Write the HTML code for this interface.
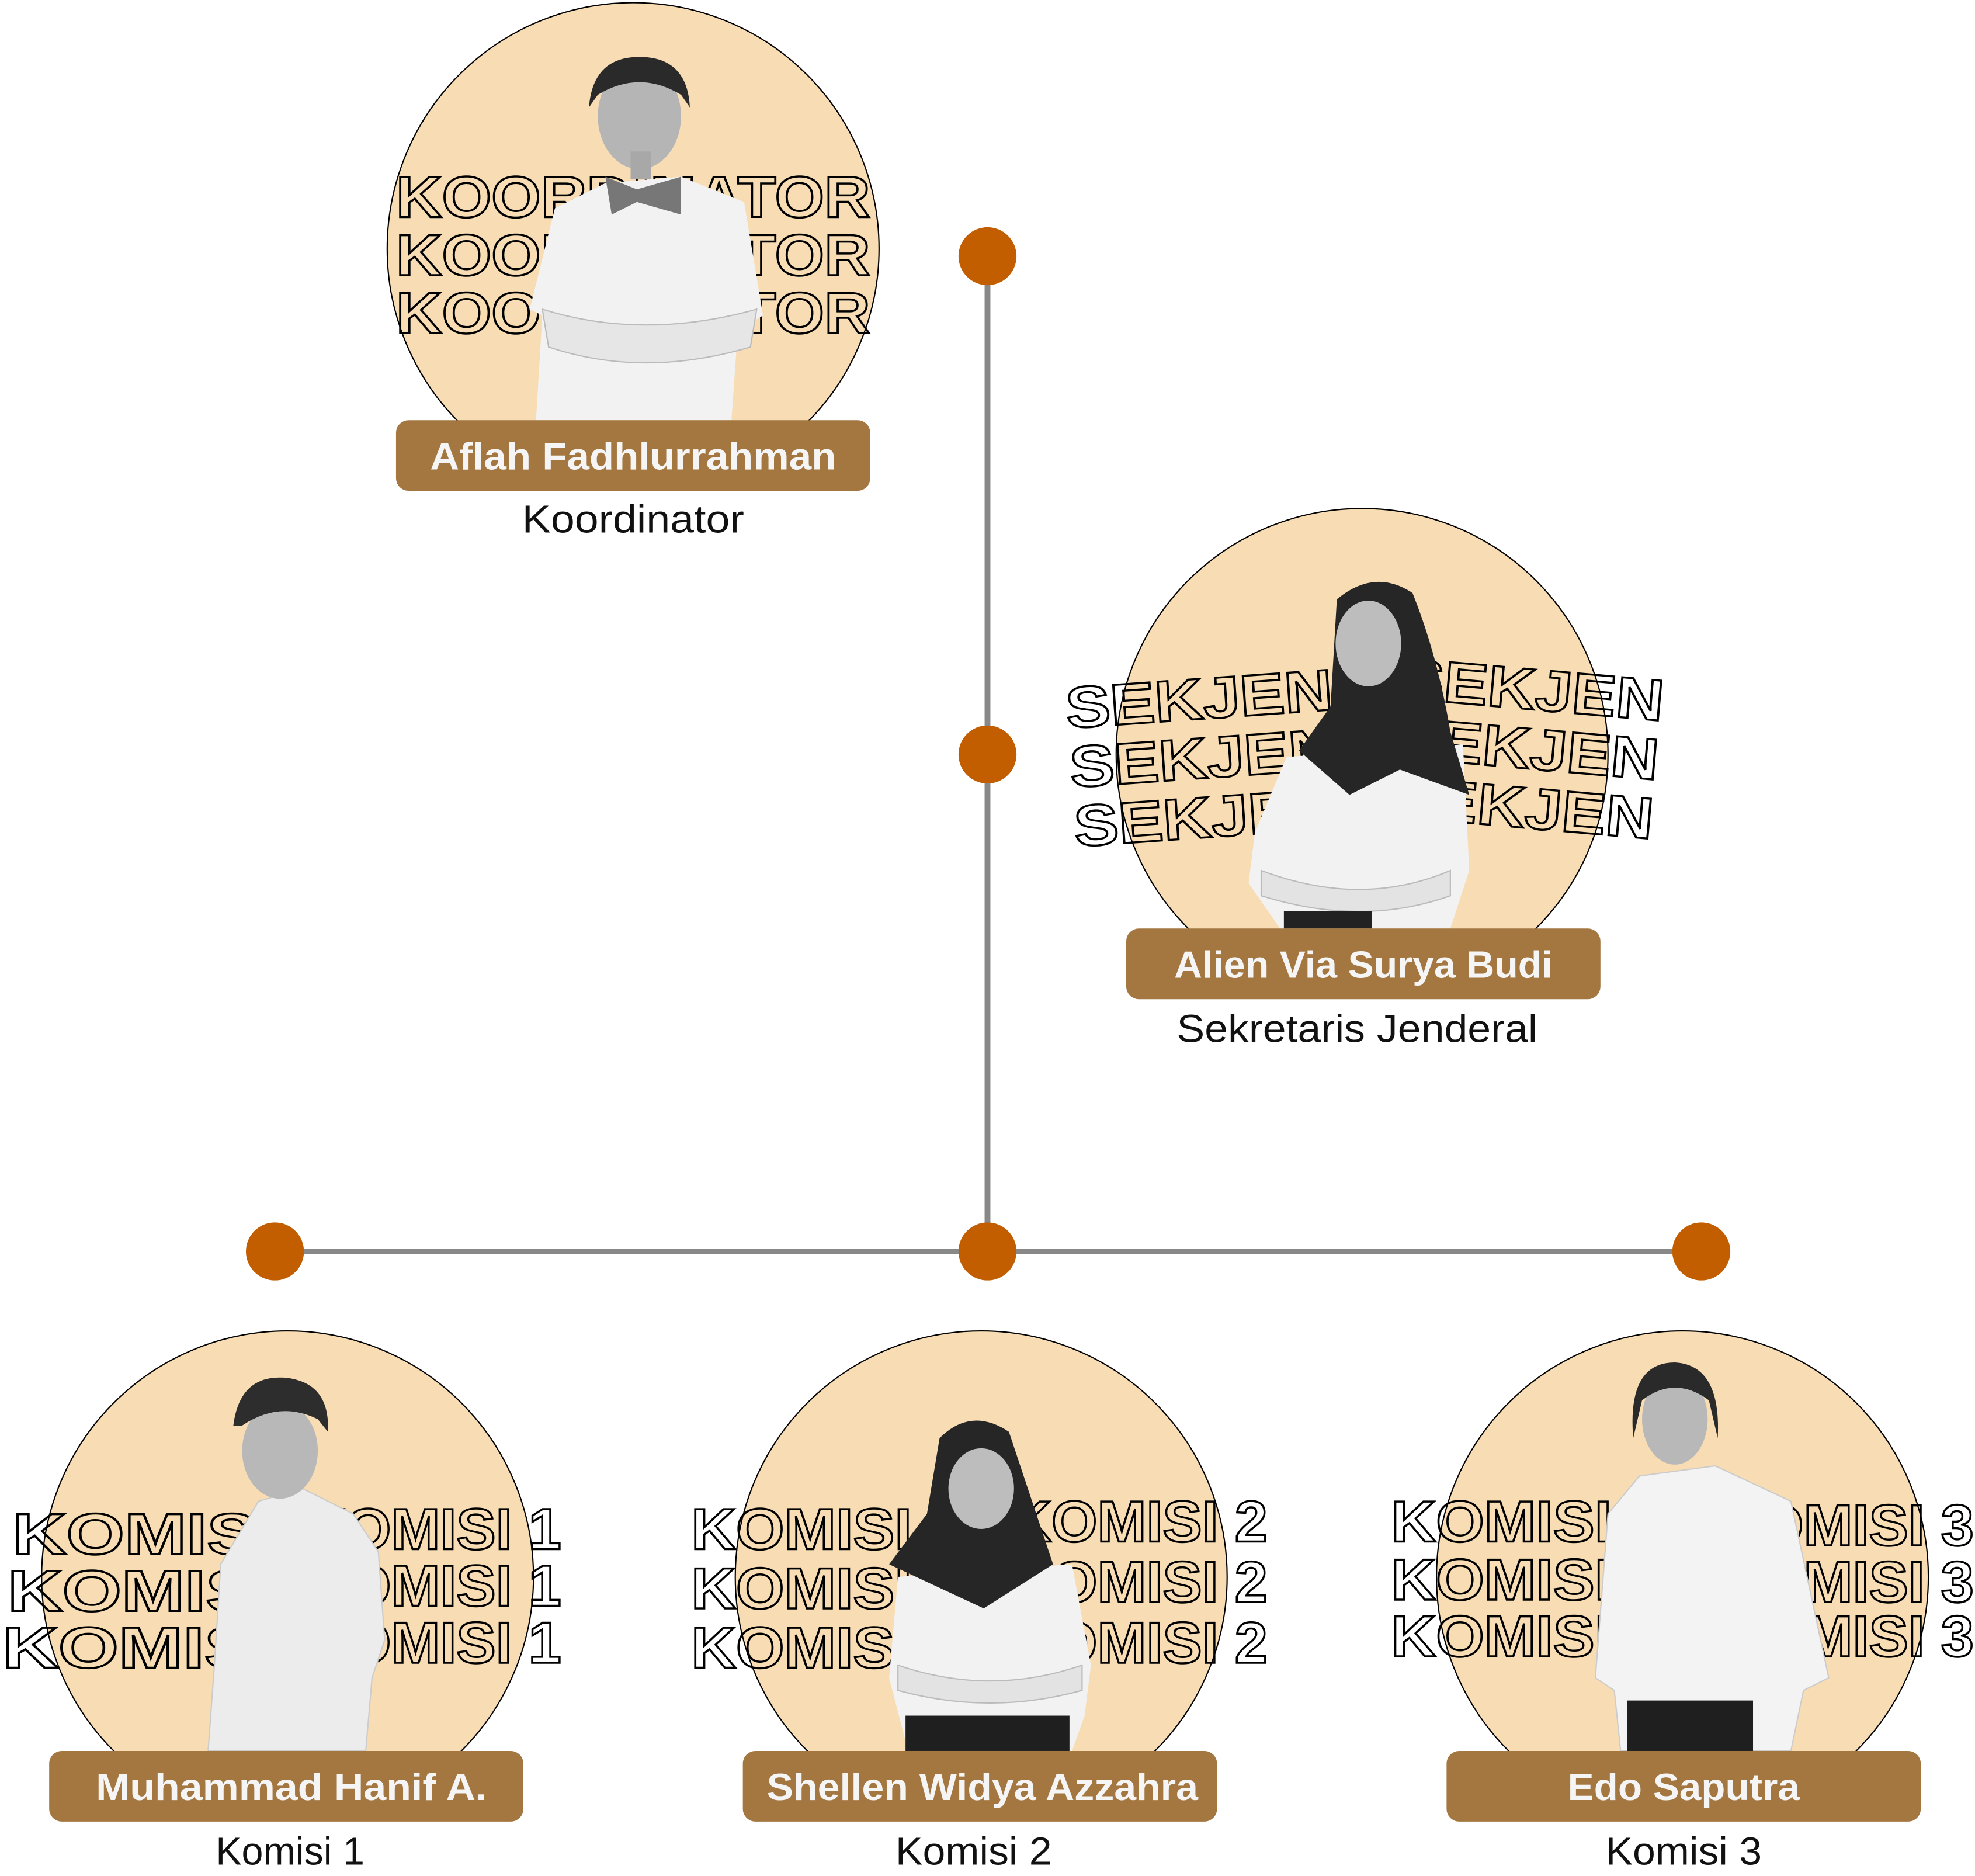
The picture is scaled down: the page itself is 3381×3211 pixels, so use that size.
<!DOCTYPE html>
<html><head><meta charset="utf-8"><style>
html,body{margin:0;padding:0;background:#fff;}
svg{display:block;}
.o{fill:none;stroke:#000;stroke-width:1.6;font-family:"Liberation Sans",sans-serif;font-weight:bold;font-size:46px;}
.n{fill:#f5f5f5;font-family:"Liberation Sans",sans-serif;font-weight:bold;font-size:30px;text-anchor:middle;}
.r{fill:#111;font-family:"Liberation Sans",sans-serif;font-size:31px;text-anchor:middle;}
.c{fill:#F7DCB4;stroke:#000;stroke-width:1;}
.lb{fill:#A47640;}
</style></head><body>
<svg width="3381" height="3211" viewBox="0 0 1566 1487" xmlns="http://www.w3.org/2000/svg">
<defs>
<clipPath id="k1"><rect x="0" y="0" width="1566" height="334"/></clipPath>
<clipPath id="k2"><rect x="0" y="0" width="1566" height="737"/></clipPath>
<clipPath id="k3"><rect x="0" y="0" width="1566" height="1389"/></clipPath>
</defs>
<!-- connectors -->
<line x1="783" y1="203" x2="783" y2="992" stroke="#888" stroke-width="4.6"/>
<line x1="218" y1="992" x2="1349" y2="992" stroke="#888" stroke-width="4.6"/>
<g fill="#C25E00">
<circle cx="783" cy="203" r="23"/><circle cx="783" cy="598" r="23"/>
<circle cx="783" cy="992" r="23"/><circle cx="218" cy="992" r="23"/><circle cx="1349" cy="992" r="23"/>
</g>

<!-- Koordinator -->
<circle class="c" cx="502" cy="197" r="195" clip-path="url(#k1)"/>
<text class="o" x="314" y="172" textLength="376" lengthAdjust="spacingAndGlyphs">KOORDINATOR</text>
<text class="o" x="314" y="218" textLength="376" lengthAdjust="spacingAndGlyphs">KOORDINATOR</text>
<text class="o" x="314" y="264" textLength="376" lengthAdjust="spacingAndGlyphs">KOORDINATOR</text>
<path d="M440 165 L480 145 L540 140 L590 160 L605 250 L585 262 L580 333 L425 333 L430 250 L420 245 Z" fill="#f2f2f2"/>
<path d="M480 140 L505 150 L540 140 L540 170 L505 160 L485 170 Z" fill="#777"/>
<path d="M430 245 Q510 270 600 245 L595 275 Q510 300 435 275 Z" fill="#e6e6e6" stroke="#bbb" stroke-width="1"/>
<ellipse cx="507" cy="92" rx="33" ry="42" fill="#b5b5b5"/>
<path d="M467 85 Q470 45 507 45 Q545 45 547 85 L540 75 Q507 55 474 75 Z" fill="#2a2a2a"/>
<rect x="500" y="120" width="16" height="22" fill="#a8a8a8"/>
<rect class="lb" x="314" y="333" width="376" height="56" rx="10"/>
<text class="n" x="502" y="372" textLength="322" lengthAdjust="spacingAndGlyphs">Aflah Fadhlurrahman</text>
<text class="r" x="502" y="422" textLength="176" lengthAdjust="spacingAndGlyphs">Koordinator</text>

<!-- Sekjen -->
<circle class="c" cx="1080" cy="598" r="195" clip-path="url(#k2)"/>
<g transform="rotate(-4 950 600)">
<text class="o" x="848" y="570" textLength="212" lengthAdjust="spacingAndGlyphs">SEKJEN</text>
<text class="o" x="848" y="617" textLength="212" lengthAdjust="spacingAndGlyphs">SEKJEN</text>
<text class="o" x="848" y="664" textLength="212" lengthAdjust="spacingAndGlyphs">SEKJEN</text>
</g>
<g transform="rotate(5 1210 600)">
<text class="o" x="1105" y="562" textLength="210" lengthAdjust="spacingAndGlyphs">SEKJEN</text>
<text class="o" x="1105" y="609" textLength="210" lengthAdjust="spacingAndGlyphs">SEKJEN</text>
<text class="o" x="1105" y="656" textLength="210" lengthAdjust="spacingAndGlyphs">SEKJEN</text>
</g>
<path d="M1020 600 L1160 590 L1165 690 L1150 736 L1015 736 L990 700 L995 660 Z" fill="#f2f2f2"/>
<path d="M1000 690 Q1080 720 1150 690 L1150 710 Q1080 735 1000 710 Z" fill="#e3e3e3" stroke="#bbb" stroke-width="1"/>
<rect x="1018" y="722" width="70" height="14" fill="#222"/>
<path d="M1060 475 Q1090 450 1120 470 Q1140 520 1150 580 L1165 630 L1110 610 L1070 630 L1030 595 L1055 560 Z" fill="#262626"/>
<ellipse cx="1085" cy="510" rx="26" ry="34" fill="#bdbdbd"/>
<rect class="lb" x="893" y="736" width="376" height="56" rx="10"/>
<text class="n" x="1081" y="775" textLength="300" lengthAdjust="spacingAndGlyphs">Alien Via Surya Budi</text>
<text class="r" x="1076" y="826" textLength="286" lengthAdjust="spacingAndGlyphs">Sekretaris Jenderal</text>

<!-- Komisi 1 -->
<circle class="c" cx="228" cy="1250" r="195" clip-path="url(#k3)"/>
<text class="o" x="10" y="1232" textLength="210" lengthAdjust="spacingAndGlyphs">KOMISI</text>
<text class="o" x="6" y="1277" textLength="214" lengthAdjust="spacingAndGlyphs">KOMISI</text>
<text class="o" x="2" y="1322" textLength="218" lengthAdjust="spacingAndGlyphs">KOMISI</text>
<text class="o" x="240" y="1228" textLength="205" lengthAdjust="spacingAndGlyphs">KOMISI 1</text>
<text class="o" x="240" y="1273" textLength="205" lengthAdjust="spacingAndGlyphs">KOMISI 1</text>
<text class="o" x="240" y="1318" textLength="205" lengthAdjust="spacingAndGlyphs">KOMISI 1</text>
<path d="M205 1190 L240 1180 L280 1200 L300 1230 L305 1300 L295 1330 L290 1388 L165 1388 L170 1320 L175 1240 Z" fill="#ececec" stroke="#ccc" stroke-width="1"/>
<ellipse cx="222" cy="1150" rx="30" ry="38" fill="#b8b8b8"/>
<path d="M185 1130 Q190 1090 225 1092 Q262 1095 260 1135 L252 1125 Q222 1110 192 1130 Z" fill="#2d2d2d"/>
<rect class="lb" x="39" y="1388" width="376" height="56" rx="10"/>
<text class="n" x="231" y="1427" textLength="310" lengthAdjust="spacingAndGlyphs">Muhammad Hanif A.</text>
<text class="r" x="230" y="1478" textLength="118" lengthAdjust="spacingAndGlyphs">Komisi 1</text>

<!-- Komisi 2 -->
<circle class="c" cx="778" cy="1250" r="195" clip-path="url(#k3)"/>
<text class="o" x="548" y="1228" textLength="175" lengthAdjust="spacingAndGlyphs">KOMISI</text>
<text class="o" x="548" y="1275" textLength="175" lengthAdjust="spacingAndGlyphs">KOMISI</text>
<text class="o" x="548" y="1322" textLength="175" lengthAdjust="spacingAndGlyphs">KOMISI</text>
<text class="o" x="800" y="1222" textLength="205" lengthAdjust="spacingAndGlyphs">KOMISI 2</text>
<text class="o" x="800" y="1270" textLength="205" lengthAdjust="spacingAndGlyphs">KOMISI 2</text>
<text class="o" x="800" y="1318" textLength="205" lengthAdjust="spacingAndGlyphs">KOMISI 2</text>
<path d="M712 1250 L850 1240 L865 1320 L860 1360 L850 1388 L720 1388 L705 1330 Z" fill="#f2f2f2"/>
<path d="M712 1320 Q785 1345 858 1320 L858 1340 Q785 1360 712 1340 Z" fill="#e3e3e3" stroke="#bbb" stroke-width="1"/>
<rect x="718" y="1360" width="130" height="28" fill="#1f1f1f"/>
<path d="M745 1140 Q770 1115 800 1135 Q815 1180 835 1240 L780 1275 L705 1240 L735 1200 Z" fill="#262626"/>
<ellipse cx="778" cy="1180" rx="26" ry="32" fill="#bdbdbd"/>
<rect class="lb" x="589" y="1388" width="376" height="56" rx="10"/>
<text class="n" x="779" y="1427" textLength="342" lengthAdjust="spacingAndGlyphs">Shellen Widya Azzahra</text>
<text class="r" x="772" y="1478" textLength="124" lengthAdjust="spacingAndGlyphs">Komisi 2</text>

<!-- Komisi 3 -->
<circle class="c" cx="1334" cy="1250" r="195" clip-path="url(#k3)"/>
<text class="o" x="1103" y="1222" textLength="175" lengthAdjust="spacingAndGlyphs">KOMISI</text>
<text class="o" x="1103" y="1268" textLength="175" lengthAdjust="spacingAndGlyphs">KOMISI</text>
<text class="o" x="1103" y="1313" textLength="175" lengthAdjust="spacingAndGlyphs">KOMISI</text>
<text class="o" x="1360" y="1225" textLength="205" lengthAdjust="spacingAndGlyphs">KOMISI 3</text>
<text class="o" x="1360" y="1270" textLength="205" lengthAdjust="spacingAndGlyphs">KOMISI 3</text>
<text class="o" x="1360" y="1313" textLength="205" lengthAdjust="spacingAndGlyphs">KOMISI 3</text>
<path d="M1300 1170 L1360 1162 L1420 1190 L1450 1330 L1430 1340 L1420 1388 L1285 1388 L1280 1340 L1265 1330 L1275 1200 Z" fill="#f3f3f3" stroke="#ccc" stroke-width="1"/>
<rect x="1290" y="1348" width="100" height="40" fill="#1f1f1f"/>
<ellipse cx="1328" cy="1125" rx="26" ry="36" fill="#b8b8b8"/>
<path d="M1295 1140 Q1290 1080 1328 1080 Q1365 1082 1362 1140 L1355 1110 Q1328 1090 1302 1110 Z" fill="#2a2a2a"/>
<rect class="lb" x="1147" y="1388" width="376" height="56" rx="10"/>
<text class="n" x="1335" y="1427" textLength="184" lengthAdjust="spacingAndGlyphs">Edo Saputra</text>
<text class="r" x="1335" y="1478" textLength="124" lengthAdjust="spacingAndGlyphs">Komisi 3</text>
</svg>
</body></html>
